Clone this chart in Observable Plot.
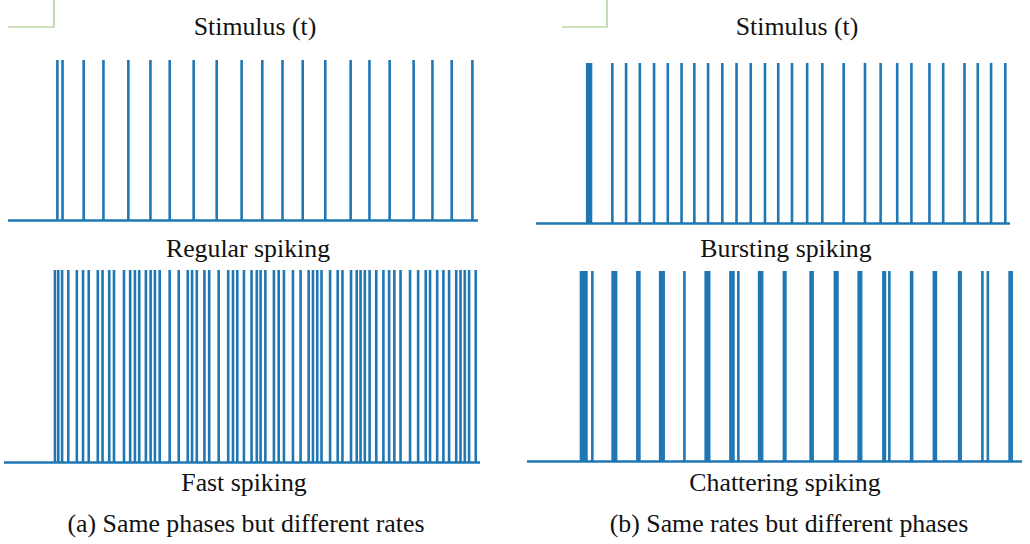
<!DOCTYPE html>
<html>
<head>
<meta charset="utf-8">
<script src="https://cdn.jsdelivr.net/npm/d3@7"></script>
<script src="https://cdn.jsdelivr.net/npm/@observablehq/plot@0.6"></script>
<style>
  html, body { margin: 0; padding: 0; background: #fff; }
  #fig { position: relative; width: 1030px; height: 544px; overflow: hidden; }
  #fig svg { position: absolute; overflow: visible; }
  #labels { left: 0; top: 0; pointer-events: none; }
</style>
</head>
<body>
<div id="fig"></div>
<script>
// Spike times (ms) over a 1000 ms stimulus window, one array per neuron type.
const regularSpikes = [104, 115, 160, 202, 255, 302, 343, 394, 443, 496, 540, 583, 626, 674, 728, 768, 811, 862, 902, 943, 987];

const fastSpikes = [106, 113, 121, 134, 152, 165, 177, 196, 206, 220, 230, 251, 264, 274, 283, 297, 307, 316, 326, 347,
  366, 385, 394, 404, 420, 430, 450, 470, 480, 489, 503, 519, 530, 538, 548, 566, 576, 587, 606, 622,
  639, 648, 657, 666, 684, 700, 710, 728, 740, 748, 757, 767, 781, 796, 808, 819, 832, 852, 869, 885,
  894, 909, 922, 934, 949, 958, 967, 976, 990];

const burstingSpikes = [107, 111, 115, 160, 189, 218, 248, 277, 306, 333, 362, 392, 422, 452, 482, 510, 539, 571, 603, 648,
  693, 726, 761, 791, 829, 858, 903, 931, 959, 989];

const chatteringSpikes = [108, 112, 116, 119, 131, 172, 176, 179, 222, 226, 268, 272, 275, 317, 360, 364, 367, 410, 414, 416,
  426, 468, 472, 474, 518, 521, 572, 576, 621, 625, 626, 669, 673, 674, 719, 722, 731, 775, 777, 821,
  825, 872, 875, 919, 930, 974, 978];

const titles = ["Stimulus (t)", "Stimulus (t)"];
const typeLabels = ["Regular spiking", "Fast spiking", "Bursting spiking", "Chattering spiking"];
const captions = ["(a) Same phases but different rates", "(b) Same rates but different phases"];

const blue = "#1f77b4";
const serif = "'Liberation Serif', 'DejaVu Serif', serif";
const fig = document.getElementById("fig");

// Panel frames on the page
const panels = [
  {spikes: regularSpikes,    left: 0,   top: 50,  width: 490, height: 180, ml: 8,  mr: 12},
  {spikes: fastSpikes,       left: 0,   top: 260, width: 490, height: 212, ml: 4,  mr: 10},
  {spikes: burstingSpikes,   left: 526, top: 53,  width: 494, height: 180, ml: 10, mr: 10},
  {spikes: chatteringSpikes, left: 517, top: 261, width: 513, height: 210, ml: 10, mr: 8}
];

for (const p of panels) {
  const chart = Plot.plot({
    width: p.width,
    height: p.height,
    marginLeft: p.ml,
    marginRight: p.mr,
    marginTop: 10,
    marginBottom: 10,
    x: {domain: [0, 1000], axis: null},
    y: {domain: [0, 1], axis: null},
    style: {background: "transparent", overflow: "visible"},
    marks: [
      Plot.ruleX(p.spikes, {x: d => d, y1: 0, y2: 1, stroke: blue, strokeWidth: 2.6}),
      Plot.ruleY([0], {stroke: blue, strokeWidth: 2.6})
    ]
  });
  chart.style.left = p.left + "px";
  chart.style.top = p.top + "px";
  fig.appendChild(chart);
}

// Titles, neuron-type labels and sub-figure captions
const svg = d3.select(fig).append("svg")
  .attr("id", "labels")
  .attr("width", 1030)
  .attr("height", 544);

const textItems = [
  [titles[0], 255, 34.5], [titles[1], 797, 34.5],
  [typeLabels[0], 248, 257], [typeLabels[2], 786, 257],
  [typeLabels[1], 244, 491], [typeLabels[3], 785, 491],
  [captions[0], 246, 532], [captions[1], 789, 532]
];
svg.selectAll("text").data(textItems).join("text")
  .attr("x", d => d[1])
  .attr("y", d => d[2])
  .attr("text-anchor", "middle")
  .attr("font-family", serif)
  .attr("font-size", 25.8)
  .attr("fill", "#111")
  .style("font-family", serif)
  .text(d => d[0]);

// Thin green corner marks in the top margin
const corners = [[8, 54], [562, 607]];
for (const [x0, x1] of corners) {
  svg.append("path")
    .attr("d", `M${x0},27H${x1}V0`)
    .attr("fill", "none")
    .attr("stroke", "#9cc67e")
    .attr("stroke-width", 1.2);
}
</script>
</body>
</html>
